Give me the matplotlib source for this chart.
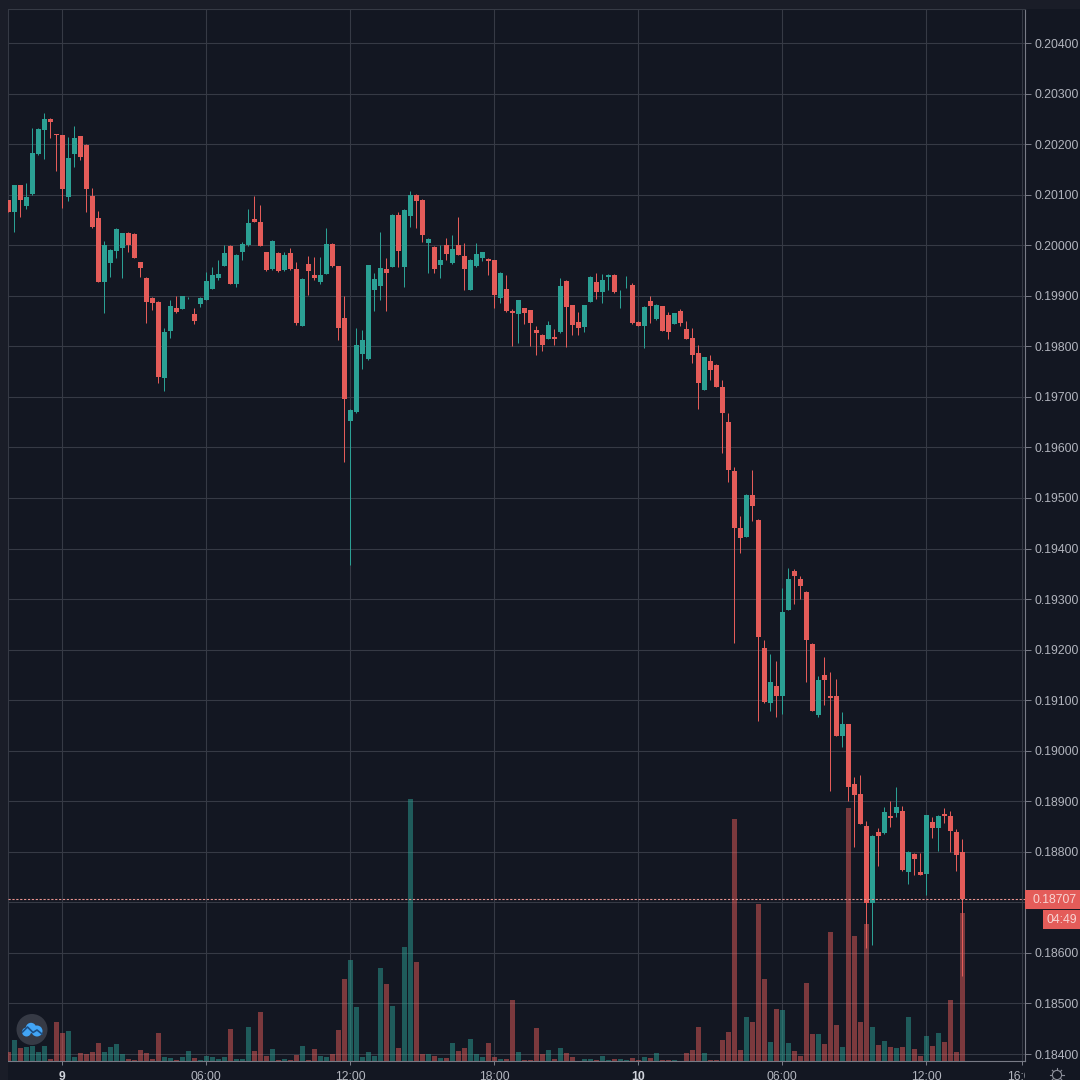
import matplotlib
matplotlib.use('Agg')
import matplotlib.pyplot as plt
from matplotlib.patches import Circle, Rectangle
from matplotlib.transforms import Bbox
import numpy as np

# 15 minute candles, prices in 1/100000
opens = [
    20090, 20066, 20120, 20078, 20102, 20181, 20228, 20250, 20220, 20218,
    20095, 20181, 20216, 20199, 20098, 20054, 19928, 19964, 19989, 19995,
    20025, 20023, 19966, 19936, 19896, 19888, 19738, 19831, 19876, 19874,
    19895, 19863, 19884, 19892, 19914, 19936, 19959, 19999, 19923, 19986,
    20000, 20052, 20046, 19986, 19952, 19985, 19950, 19985, 19952, 19841,
    19963, 19941, 19928, 19944, 20003, 19958, 19857, 19652, 19670, 19784,
    19774, 19912, 19920, 19952, 19957, 20060, 19957, 20057, 20100, 20090,
    20005, 19997, 19960, 20001, 19964, 20000, 19979, 19912, 19958, 19975,
    19973, 19970, 19896, 19914, 19869, 19863, 19875, 19871, 19833, 19823,
    19815, 19819, 19828, 19930, 19881, 19849, 19839, 19888, 19928, 19908,
    19937, 19942, 19909, 19925, 19921, 19849, 19841, 19890, 19855, 19879,
    19861, 19845, 19870, 19835, 19817, 19786, 19714, 19770, 19764, 19720,
    19651, 19554, 19441, 19423, 19506, 19457, 19204, 19095, 19129, 19109,
    19279, 19355, 19340, 19314, 19212, 19071, 19150, 19109, 19108, 19030,
    19052, 18935, 18915, 18852, 18699, 18840, 18837, 18870, 18876, 18880,
    18760, 18795, 18761, 18756, 18859, 18847, 18874, 18870, 18840, 18799,
]
highs = [
    20090, 20120, 20120, 20123, 20232, 20232, 20261, 20251, 20221, 20219,
    20215, 20235, 20217, 20200, 20113, 20067, 20008, 19993, 20034, 20025,
    20026, 20024, 19967, 19937, 19897, 19889, 19836, 19892, 19900, 19899,
    19898, 19875, 19897, 19948, 19956, 19970, 20001, 20000, 19982, 20006,
    20071, 20097, 20080, 19987, 20010, 19986, 19986, 19994, 19966, 19935,
    19979, 19977, 19977, 20034, 20004, 19959, 19899, 19676, 19836, 19833,
    19961, 19945, 20026, 19975, 20061, 20066, 20072, 20108, 20101, 20091,
    20014, 19998, 20000, 20014, 20020, 20056, 20004, 19972, 20004, 19987,
    19974, 19971, 19947, 19941, 19873, 19892, 19876, 19872, 19841, 19824,
    19851, 19835, 19935, 19931, 19882, 19867, 19882, 19939, 19946, 19944,
    19943, 19943, 19912, 19939, 19925, 19850, 19880, 19899, 19883, 19880,
    19868, 19866, 19874, 19851, 19837, 19802, 19779, 19782, 19765, 19734,
    19668, 19561, 19465, 19507, 19555, 19458, 19220, 19191, 19177, 19322,
    19361, 19359, 19346, 19315, 19213, 19148, 19185, 19156, 19142, 19076,
    19053, 18948, 18951, 18860, 18833, 18847, 18889, 18900, 18929, 18891,
    18801, 18798, 18797, 18873, 18869, 18872, 18887, 18880, 18845, 18826,
]
lows = [
    20066, 20027, 20056, 20071, 20100, 20179, 20170, 20212, 20147, 20073,
    20088, 20154, 20168, 20065, 20035, 19927, 19866, 19938, 19975, 19936,
    19986, 19974, 19937, 19846, 19871, 19727, 19711, 19816, 19866, 19873,
    19894, 19845, 19877, 19891, 19913, 19932, 19958, 19923, 19917, 19971,
    19999, 20045, 19998, 19949, 19951, 19948, 19949, 19951, 19843, 19840,
    19901, 19932, 19924, 19943, 19956, 19812, 19571, 19367, 19669, 19755,
    19773, 19869, 19892, 19869, 19956, 19956, 19917, 20037, 20034, 20006,
    19946, 19946, 19935, 19971, 19963, 19980, 19912, 19911, 19957, 19968,
    19942, 19876, 19885, 19868, 19800, 19807, 19845, 19800, 19782, 19790,
    19814, 19803, 19827, 19798, 19823, 19823, 19828, 19887, 19894, 19886,
    19912, 19905, 19876, 19915, 19845, 19840, 19797, 19846, 19853, 19830,
    19815, 19844, 19841, 19814, 19767, 19676, 19713, 19733, 19719, 19589,
    19532, 19213, 19391, 19422, 19455, 19059, 19095, 19078, 19067, 19073,
    19278, 19291, 19300, 19136, 19078, 19067, 19091, 18921, 19029, 19007,
    18900, 18810, 18855, 18610, 18615, 18771, 18836, 18849, 18869, 18763,
    18737, 18755, 18754, 18714, 18828, 18802, 18857, 18799, 18762, 18554,
]
closes = [
    20066, 20120, 20090, 20095, 20182, 20230, 20250, 20244, 20219, 20112,
    20172, 20213, 20174, 20112, 20036, 19928, 20001, 19991, 20033, 20024,
    20000, 19975, 19955, 19887, 19886, 19739, 19829, 19880, 19867, 19899,
    19896, 19851, 19896, 19930, 19941, 19944, 19985, 19924, 19981, 20003,
    20043, 20046, 19999, 19950, 20009, 19949, 19981, 19952, 19847, 19934,
    19949, 19936, 19941, 20003, 19958, 19836, 19696, 19674, 19803, 19813,
    19960, 19933, 19954, 19946, 20060, 19989, 20070, 20100, 20088, 20021,
    20013, 19953, 19970, 19983, 19993, 19981, 19952, 19971, 19983, 19986,
    19968, 19902, 19946, 19869, 19866, 19891, 19865, 19846, 19827, 19803,
    19843, 19815, 19920, 19877, 19843, 19837, 19881, 19938, 19908, 19932,
    19942, 19908, 19910, 19926, 19846, 19841, 19877, 19879, 19882, 19831,
    19828, 19865, 19847, 19815, 19782, 19728, 19778, 19754, 19720, 19668,
    19556, 19441, 19421, 19506, 19485, 19224, 19096, 19135, 19108, 19275,
    19340, 19345, 19326, 19219, 19079, 19139, 19139, 19104, 19030, 19052,
    18928, 18913, 18856, 18699, 18832, 18831, 18878, 18866, 18889, 18764,
    18800, 18785, 18755, 18872, 18847, 18870, 18870, 18842, 18793, 18707,
]
volumes = [
    28, 63, 38, 43, 45, 28, 46, 5, 116, 83,
    91, 13, 23, 21, 26, 53, 26, 41, 51, 20,
    5, 3, 33, 23, 5, 83, 12, 8, 3, 11,
    30, 10, 3, 15, 12, 6, 11, 97, 7, 5,
    101, 31, 148, 14, 35, 2, 7, 4, 18, 45,
    3, 35, 15, 11, 21, 93, 245, 303, 161, 13,
    27, 15, 278, 231, 166, 38, 342, 786, 297, 21,
    20, 14, 8, 9, 53, 31, 38, 67, 22, 12,
    55, 11, 5, 6, 183, 26, 2, 2, 99, 20,
    33, 5, 38, 23, 12, 1, 5, 6, 3, 15,
    2, 6, 6, 4, 9, 2, 12, 8, 24, 2,
    2, 3, 1, 23, 33, 103, 23, 3, 4, 63,
    86, 725, 33, 131, 118, 470, 246, 58, 155, 153,
    53, 30, 15, 235, 80, 80, 51, 386, 109, 43,
    758, 375, 117, 410, 101, 48, 60, 43, 38, 43,
    131, 35, 15, 76, 46, 85, 58, 182, 26, 445,
]

price_ticks = [18400, 18500, 18600, 18700, 18800, 18900, 19000, 19100, 19200, 19300, 19400,
               19500, 19600, 19700, 19800, 19900, 20000, 20100, 20200, 20300, 20400]
time_ticks = [9, 33, 57, 81, 105, 129, 153, 169]
time_labels = ['9', '06:00', '12:00', '18:00', '10', '06:00', '12:00', '16:00']
bold_labels = ['9', '10']
last_price = 18707
timer_label = '04:49'

BG = '#131722'
STRIP = '#1a1d28'
GRID = '#363a45'
AXIS = '#787b86'
TEXT = '#b2b5be'
RED = '#e45c59'
GREEN = '#2ba094'

plt.rcParams['font.family'] = ['Liberation Sans', 'DejaVu Sans']

fig = plt.figure(figsize=(10.8, 10.8), dpi=100, facecolor=BG)
fig.add_artist(Rectangle((0, 0), 8 / 1080, 1, color=STRIP, linewidth=0, transform=fig.transFigure))
fig.add_artist(Rectangle((0, 1071 / 1080), 1, 9 / 1080, color=STRIP, linewidth=0, transform=fig.transFigure))
ax = fig.add_axes([8 / 1080, 19 / 1080, 1017 / 1080, 1052 / 1080], facecolor=BG)

o = np.array(opens) / 1e5
h = np.array(highs) / 1e5
l = np.array(lows) / 1e5
c = np.array(closes) / 1e5
x = np.arange(len(o))
col = np.where(c >= o, GREEN, RED)

ax.set_xlim(-0.05, 169.45)
ax.set_ylim(0.183862, 0.204673)

# volume sits on its own scale at the bottom
vol_ax = ax.twinx()
vol_ax.set_ylim(0, 3156)
vol_ax.axis('off')
vol_ax.bar(x, volumes, width=0.8, color=col, alpha=0.5, linewidth=0, zorder=2)

# candles over the volume
candle_ax = ax.twinx()
candle_ax.set_ylim(ax.get_ylim())
candle_ax.axis('off')
candle_ax.vlines(x, l, h, colors=col, linewidth=0.72, zorder=3)
candle_ax.bar(x, np.abs(c - o), bottom=np.minimum(o, c), width=0.82, color=col, linewidth=0, zorder=4)

candle_ax.axhline(last_price / 1e5, color='#e8938f', linewidth=0.8, linestyle=(0, (2, 1.5)), zorder=5)

ax.set_axisbelow(True)
ax.grid(True, color=GRID, linewidth=0.8)
ax.set_xticks(time_ticks)
ax.set_xticklabels(time_labels)
ax.set_yticks(np.array(price_ticks) / 1e5)
# 0.18700 is hidden behind the last price tag
ax.set_yticklabels(['' if p == 18700 else f'{p / 1e5:.5f}' for p in price_ticks])
ax.yaxis.tick_right()
ax.tick_params(axis='y', length=4, width=0.72, color=AXIS, labelcolor=TEXT, labelsize=8.8, pad=3)
ax.tick_params(axis='x', length=3, width=0.72, color=AXIS, labelcolor=TEXT, labelsize=8.8, pad=4.5)
for lab in ax.get_xticklabels():
    if lab.get_text() in bold_labels:
        lab.set_fontweight('bold')
        lab.set_color('#d1d4dc')
# last label runs under the price scale
last_lab = ax.get_xticklabels()[-1]
last_lab.set_clip_on(True)
last_lab.set_clip_box(Bbox([[0, 0], [1025, 19]]))

for side in ['left', 'top']:
    ax.spines[side].set_color(GRID)
    ax.spines[side].set_linewidth(0.8)
for side in ['right', 'bottom']:
    ax.spines[side].set_color(AXIS)
    ax.spines[side].set_linewidth(0.8)

# overlay in pixel coordinates for tags, logo, settings icon
over = fig.add_axes([0, 0, 1, 1], facecolor='none')
over.set_xlim(0, 1080)
over.set_ylim(1080, 0)
over.axis('off')

over.add_patch(Rectangle((1025, 890), 55, 19, color=RED, linewidth=0))
over.add_patch(Rectangle((1043, 910), 37, 19, color=RED, linewidth=0))
over.text(1055, 899.8, f'{last_price / 1e5:.5f}', color='#f7d5d3', fontsize=8.8, ha='center', va='center')
over.text(1061.5, 919.8, timer_label, color='#f7d5d3', fontsize=8.8, ha='center', va='center')

over.add_patch(Circle((32, 1029.5), 15.5, color=GRID, linewidth=0))
for cx, cy, r in [(26.5, 1032, 4.5), (31, 1028, 5.2), (37, 1031, 5.5)]:
    over.add_patch(Circle((cx, cy), r, color='#42a5f5', linewidth=0))
over.plot([22.5, 27.5, 33, 37, 42], [1032, 1027, 1032.5, 1030, 1034], color='#1c4f85', linewidth=1.2)

over.add_patch(Circle((1057, 1075), 4.6, fill=False, edgecolor='#8b8e99', linewidth=0.8))
for ang in np.arange(0, 360, 45):
    ca, sa = np.cos(np.radians(ang)), np.sin(np.radians(ang))
    over.plot([1057 + 4.6 * ca, 1057 + 6.6 * ca], [1075 + 4.6 * sa, 1075 + 6.6 * sa], color='#8b8e99', linewidth=0.8)

fig.savefig('out.png', dpi=100, facecolor=BG)
